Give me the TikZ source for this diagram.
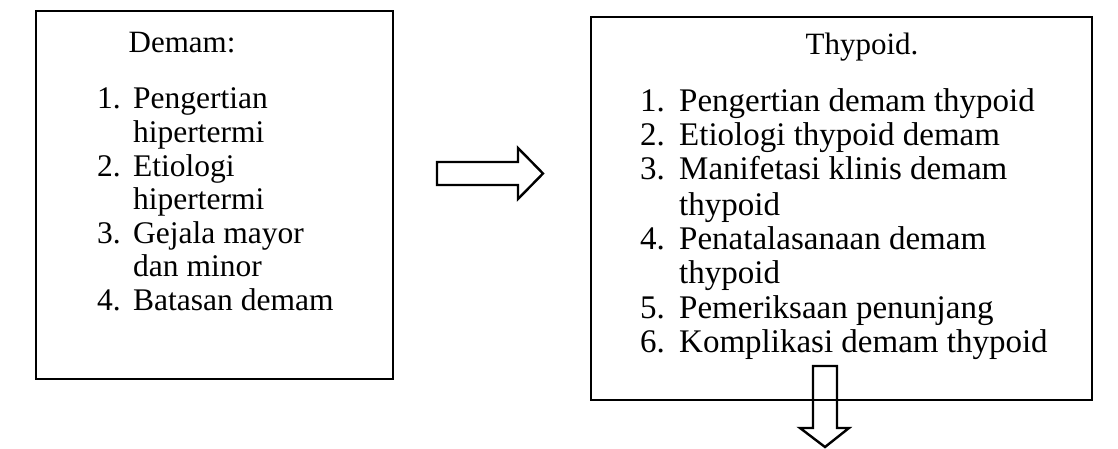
\documentclass[tikz,border=0pt]{standalone}
\usepackage{fontspec}
\setmainfont{Liberation Serif}
\begin{document}
\begin{tikzpicture}[x=1pt,y=-1pt,
  panel/.style={draw=black,line width=2.6pt,inner sep=0pt},
  blockarrow/.style={draw=black,line width=2.4pt,line join=miter},
  txt/.style={inner sep=0pt,anchor=base west,font=\fontsize{31.5}{34}\selectfont},
  rtxt/.style={inner sep=0pt,anchor=base west,font=\fontsize{33}{34}\selectfont},
  ttl/.style={inner sep=0pt,anchor=base,font=\fontsize{31}{34}\selectfont}]
\useasboundingbox (0,0) rectangle (1118,449);

% left panel
\draw[panel] (36,11) rectangle (393,379);
\node[ttl] (demam) at (182,53) {Demam:};
\foreach \n/\y/\t in {a/109/1.,c/176/2.,e/243/3.,g/310/4.}
  \node[txt] (ln\n) at (97,\y) {\t};
\node[txt] (la) at (133,109) {Pengertian};
\node[txt] (lb) at (133,142.5) {hipertermi};
\node[txt] (lc) at (133,176) {Etiologi};
\node[txt] (ld) at (133,209.5) {hipertermi};
\node[txt] (le) at (133,243) {Gejala mayor};
\node[txt] (lf) at (133,276.5) {dan minor};
\node[txt] (lg) at (133,310) {Batasan demam};

% right panel
\draw[panel] (591,17) rectangle (1092,400);
\node[ttl] (thypoid) at (862,55) {Thypoid.};
\foreach \n/\y/\t in {a/112/1.,b/146/2.,c/180/3.,e/249/4.,g/318/5.,h/352/6.}
  \node[rtxt] (rn\n) at (640,\y) {\t};
\node[rtxt] (ra) at (679,112) {Pengertian demam thypoid};
\node[rtxt] (rb) at (679,146) {Etiologi thypoid demam};
\node[rtxt] (rc) at (679,180) {Manifetasi klinis demam};
\node[rtxt] (rd) at (679,215) {thypoid};
\node[rtxt] (re) at (679,249) {Penatalasanaan demam};
\node[rtxt] (rf) at (679,283) {thypoid};
\node[rtxt] (rg) at (679,318) {Pemeriksaan penunjang};
\node[rtxt] (rh) at (679,352) {Komplikasi demam thypoid};

% block arrow pointing right
\draw[blockarrow] (437,162) -- (518,162) -- (518,148) -- (543,173.5)
  -- (518,199) -- (518,185) -- (437,185) -- cycle;

% block arrow pointing down
\draw[blockarrow] (813,366) -- (813,428) -- (800,428) -- (825,447)
  -- (849,428) -- (837,428) -- (837,366) -- cycle;
\end{tikzpicture}
\end{document}
